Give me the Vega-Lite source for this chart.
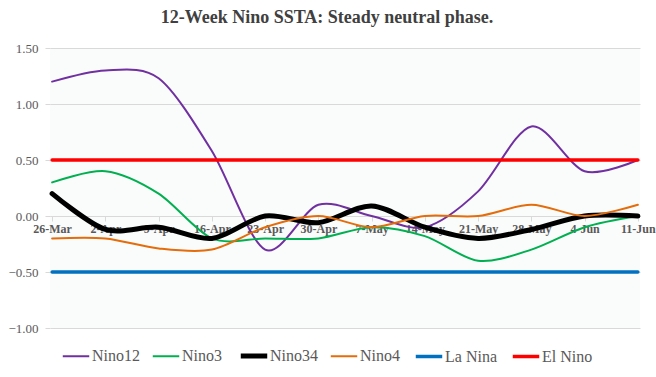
{
  "$schema": "https://vega.github.io/schema/vega-lite/v6.json",
  "autosize": "none",
  "width": 590,
  "height": 280,
  "padding": {"left": 50, "top": 48, "right": 16, "bottom": 49},
  "background": "white",
  "config": {
    "view": {"fill": "#fafbfb", "stroke": null},
    "font": "Liberation Serif",
    "axis": {"labelFont": "Liberation Serif"},
    "legend": {"labelFont": "Liberation Serif"}
  },
  "title": {
    "text": "12-Week Nino SSTA: Steady neutral phase.",
    "font": "Liberation Serif",
    "fontSize": 18,
    "fontWeight": "bold",
    "color": "#404040",
    "anchor": "middle",
    "frame": "group",
    "dx": -18,
    "offset": 15
  },
  "data": {
    "values": [
      {"date": "26-Mar", "series": "Nino12", "value": 1.2},
      {"date": "2-Apr", "series": "Nino12", "value": 1.3},
      {"date": "9-Apr", "series": "Nino12", "value": 1.23},
      {"date": "16-Apr", "series": "Nino12", "value": 0.58},
      {"date": "23-Apr", "series": "Nino12", "value": -0.3},
      {"date": "30-Apr", "series": "Nino12", "value": 0.1},
      {"date": "7-May", "series": "Nino12", "value": 0.0},
      {"date": "14-May", "series": "Nino12", "value": -0.1},
      {"date": "21-May", "series": "Nino12", "value": 0.22},
      {"date": "28-May", "series": "Nino12", "value": 0.8},
      {"date": "4-Jun", "series": "Nino12", "value": 0.4},
      {"date": "11-Jun", "series": "Nino12", "value": 0.5},

      {"date": "26-Mar", "series": "Nino3", "value": 0.3},
      {"date": "2-Apr", "series": "Nino3", "value": 0.4},
      {"date": "9-Apr", "series": "Nino3", "value": 0.2},
      {"date": "16-Apr", "series": "Nino3", "value": -0.2},
      {"date": "23-Apr", "series": "Nino3", "value": -0.2},
      {"date": "30-Apr", "series": "Nino3", "value": -0.2},
      {"date": "7-May", "series": "Nino3", "value": -0.1},
      {"date": "14-May", "series": "Nino3", "value": -0.18},
      {"date": "21-May", "series": "Nino3", "value": -0.4},
      {"date": "28-May", "series": "Nino3", "value": -0.3},
      {"date": "4-Jun", "series": "Nino3", "value": -0.1},
      {"date": "11-Jun", "series": "Nino3", "value": 0.0},

      {"date": "26-Mar", "series": "Nino34", "value": 0.2},
      {"date": "2-Apr", "series": "Nino34", "value": -0.12},
      {"date": "9-Apr", "series": "Nino34", "value": -0.1},
      {"date": "16-Apr", "series": "Nino34", "value": -0.2},
      {"date": "23-Apr", "series": "Nino34", "value": 0.0},
      {"date": "30-Apr", "series": "Nino34", "value": -0.06},
      {"date": "7-May", "series": "Nino34", "value": 0.09},
      {"date": "14-May", "series": "Nino34", "value": -0.1},
      {"date": "21-May", "series": "Nino34", "value": -0.2},
      {"date": "28-May", "series": "Nino34", "value": -0.12},
      {"date": "4-Jun", "series": "Nino34", "value": 0.0},
      {"date": "11-Jun", "series": "Nino34", "value": 0.0},

      {"date": "26-Mar", "series": "Nino4", "value": -0.2},
      {"date": "2-Apr", "series": "Nino4", "value": -0.2},
      {"date": "9-Apr", "series": "Nino4", "value": -0.29},
      {"date": "16-Apr", "series": "Nino4", "value": -0.3},
      {"date": "23-Apr", "series": "Nino4", "value": -0.1},
      {"date": "30-Apr", "series": "Nino4", "value": 0.0},
      {"date": "7-May", "series": "Nino4", "value": -0.1},
      {"date": "14-May", "series": "Nino4", "value": 0.0},
      {"date": "21-May", "series": "Nino4", "value": 0.0},
      {"date": "28-May", "series": "Nino4", "value": 0.1},
      {"date": "4-Jun", "series": "Nino4", "value": 0.0},
      {"date": "11-Jun", "series": "Nino4", "value": 0.1},

      {"date": "26-Mar", "series": "La Nina", "value": -0.5},
      {"date": "2-Apr", "series": "La Nina", "value": -0.5},
      {"date": "9-Apr", "series": "La Nina", "value": -0.5},
      {"date": "16-Apr", "series": "La Nina", "value": -0.5},
      {"date": "23-Apr", "series": "La Nina", "value": -0.5},
      {"date": "30-Apr", "series": "La Nina", "value": -0.5},
      {"date": "7-May", "series": "La Nina", "value": -0.5},
      {"date": "14-May", "series": "La Nina", "value": -0.5},
      {"date": "21-May", "series": "La Nina", "value": -0.5},
      {"date": "28-May", "series": "La Nina", "value": -0.5},
      {"date": "4-Jun", "series": "La Nina", "value": -0.5},
      {"date": "11-Jun", "series": "La Nina", "value": -0.5},

      {"date": "26-Mar", "series": "El Nino", "value": 0.5},
      {"date": "2-Apr", "series": "El Nino", "value": 0.5},
      {"date": "9-Apr", "series": "El Nino", "value": 0.5},
      {"date": "16-Apr", "series": "El Nino", "value": 0.5},
      {"date": "23-Apr", "series": "El Nino", "value": 0.5},
      {"date": "30-Apr", "series": "El Nino", "value": 0.5},
      {"date": "7-May", "series": "El Nino", "value": 0.5},
      {"date": "14-May", "series": "El Nino", "value": 0.5},
      {"date": "21-May", "series": "El Nino", "value": 0.5},
      {"date": "28-May", "series": "El Nino", "value": 0.5},
      {"date": "4-Jun", "series": "El Nino", "value": 0.5},
      {"date": "11-Jun", "series": "El Nino", "value": 0.5}
    ]
  },
  "mark": {"type": "line", "interpolate": "cardinal", "tension": 0.1, "strokeCap": "round"},
  "encoding": {
    "x": {
      "field": "date",
      "type": "ordinal",
      "sort": null,
      "scale": {"type": "point", "padding": 0.04},
      "axis": {
        "title": null,
        "offset": -112,
        "labelAngle": 0,
        "labelFont": "Liberation Serif",
        "labelFontSize": 12,
        "labelFontWeight": "bold",
        "labelColor": "#595959",
        "labelPadding": 2,
        "labelOverlap": false,
        "domainColor": "#d9d9d9",
        "tickColor": "#d9d9d9",
        "tickSize": 5,
        "grid": false,
        "zindex": 0
      }
    },
    "y": {
      "field": "value",
      "type": "quantitative",
      "scale": {"domain": [-1, 1.5], "nice": false, "zero": false},
      "axis": {
        "title": null,
        "values": [-1, -0.5, 0, 0.5, 1, 1.5],
        "format": ".2f",
        "labelFont": "Liberation Serif",
        "labelFontSize": 13,
        "labelColor": "#595959",
        "labelPadding": 7,
        "domain": false,
        "tickColor": "#d9d9d9",
        "tickSize": 5,
        "gridColor": "#d9d9d9",
        "gridWidth": 1
      }
    },
    "color": {
      "field": "series",
      "type": "nominal",
      "title": null,
      "scale": {
        "domain": ["Nino12", "Nino3", "Nino34", "Nino4", "La Nina", "El Nino"],
        "range": ["#7030a0", "#00b050", "#000000", "#e46c0a", "#0070c0", "#ff0000"]
      },
      "legend": {
        "orient": "none",
        "legendX": 10,
        "legendY": 292,
        "direction": "horizontal",
        "columns": 6,
        "columnPadding": 8,
        "symbolType": "stroke",
        "symbolSize": 700,
        "labelOffset": 0,
        "labelFont": "Liberation Serif",
        "labelFontSize": 16,
        "labelColor": "#595959",
        "labelLimit": 200
      }
    },
    "strokeWidth": {
      "field": "series",
      "type": "ordinal",
      "title": null,
      "sort": ["Nino12", "Nino3", "Nino34", "Nino4", "La Nina", "El Nino"],
      "scale": {
        "type": "ordinal",
        "domain": ["Nino12", "Nino3", "Nino34", "Nino4", "La Nina", "El Nino"],
        "range": [2, 2, 5, 2, 3.5, 3.5]
      }
    }
  }
}
